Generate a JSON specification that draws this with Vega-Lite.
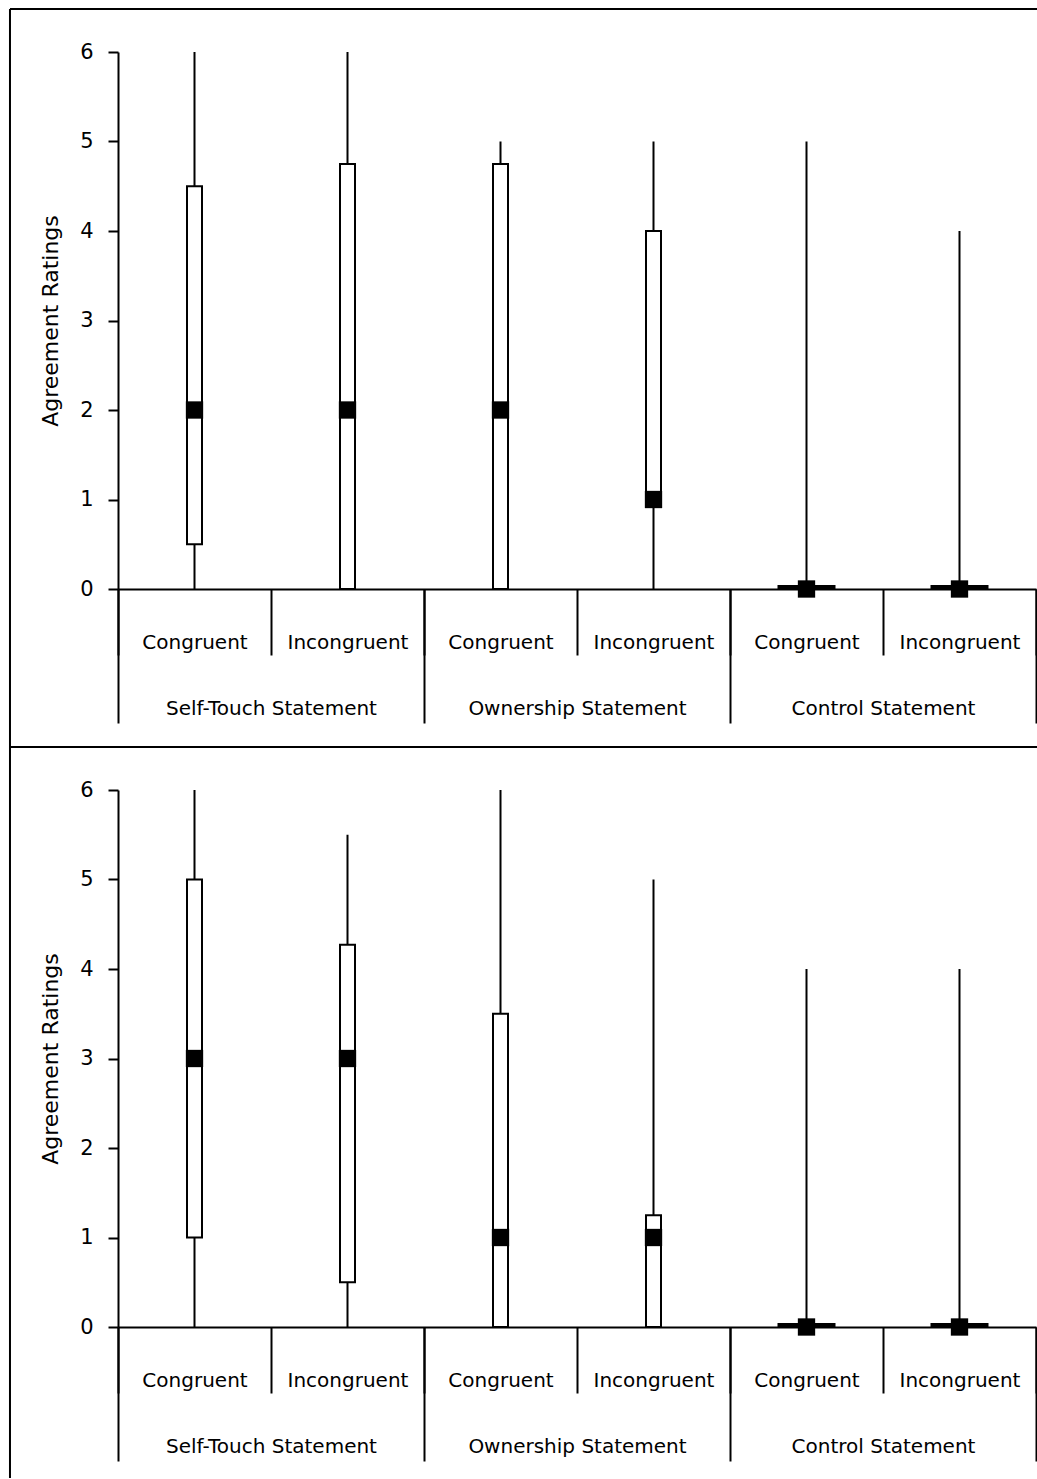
{
  "$schema": "https://vega.github.io/schema/vega-lite/v6.json",
  "padding": {"left": 8, "top": 8, "right": 0, "bottom": 0},
  "bounds": "flush",
  "spacing": 201,
  "datasets": {
    "top": [
      {"group": "Self-Touch Statement", "cond": "Self-Touch Statement / Congruent", "min": 0, "q1": 0.5, "median": 2, "q3": 4.5, "max": 6},
      {"group": "Self-Touch Statement", "cond": "Self-Touch Statement / Incongruent", "min": 0, "q1": 0, "median": 2, "q3": 4.75, "max": 6},
      {"group": "Ownership Statement", "cond": "Ownership Statement / Congruent", "min": 0, "q1": 0, "median": 2, "q3": 4.75, "max": 5},
      {"group": "Ownership Statement", "cond": "Ownership Statement / Incongruent", "min": 0, "q1": 1, "median": 1, "q3": 4, "max": 5},
      {"group": "Control Statement", "cond": "Control Statement / Congruent", "min": 0, "q1": 0, "median": 0, "q3": 0, "max": 5},
      {"group": "Control Statement", "cond": "Control Statement / Incongruent", "min": 0, "q1": 0, "median": 0, "q3": 0, "max": 4}
    ],
    "bottom": [
      {"group": "Self-Touch Statement", "cond": "Self-Touch Statement / Congruent", "min": 0, "q1": 1, "median": 3, "q3": 5, "max": 6},
      {"group": "Self-Touch Statement", "cond": "Self-Touch Statement / Incongruent", "min": 0, "q1": 0.5, "median": 3, "q3": 4.27, "max": 5.5},
      {"group": "Ownership Statement", "cond": "Ownership Statement / Congruent", "min": 0, "q1": 0, "median": 1, "q3": 3.5, "max": 6},
      {"group": "Ownership Statement", "cond": "Ownership Statement / Incongruent", "min": 0, "q1": 0, "median": 1, "q3": 1.25, "max": 5},
      {"group": "Control Statement", "cond": "Control Statement / Congruent", "min": 0, "q1": 0, "median": 0, "q3": 0, "max": 4},
      {"group": "Control Statement", "cond": "Control Statement / Incongruent", "min": 0, "q1": 0, "median": 0, "q3": 0, "max": 4}
    ]
  },
  "vconcat": [
    {
      "width": 918,
      "height": 537,
      "data": {"name": "top"},
      "layer": [
        {
          "layer": [
            {
              "mark": {"type": "rule", "stroke": "black", "strokeWidth": 2},
              "encoding": {
                "x": {"field": "cond", "type": "nominal",
                  "scale": {"type": "band", "domain": ["Self-Touch Statement / Congruent", "Self-Touch Statement / Incongruent", "Ownership Statement / Congruent", "Ownership Statement / Incongruent", "Control Statement / Congruent", "Control Statement / Incongruent"], "paddingInner": 0, "paddingOuter": 0},
                  "axis": {"orient": "bottom", "title": null, "tickBand": "extent", "tickSize": 66, "tickWidth": 2, "tickColor": "black", "domainColor": "black", "domainWidth": 2, "labelPadding": -22.5, "labelFontSize": 20, "labelLimit": 0, "labelColor": "black", "labelAngle": 0, "labelExpr": "split(datum.label, ' / ')[1]", "grid": false}},
                "y": {"field": "min", "type": "quantitative", "title": "Agreement Ratings",
                  "scale": {"domain": [0, 6], "nice": false, "zero": false},
                  "axis": {"values": [0, 1, 2, 3, 4, 5, 6], "format": "d", "tickSize": 10, "tickWidth": 2, "tickColor": "black", "domainColor": "black", "domainWidth": 2, "labelFontSize": 21, "labelColor": "black", "labelPadding": 15, "titleFontSize": 22, "titleFontWeight": "normal", "titleColor": "black", "titlePadding": 17, "grid": false}},
                "y2": {"field": "max"}
              }
            },
            {
              "mark": {"type": "bar", "width": 15, "fill": "white", "stroke": "black", "strokeWidth": 2},
              "encoding": {
                "x": {"field": "cond", "type": "nominal"},
                "y": {"field": "q1", "type": "quantitative", "title": "Agreement Ratings"},
                "y2": {"field": "q3"}
              }
            },
            {
              "transform": [{"filter": "datum.q3 == 0"}],
              "mark": {"type": "tick", "color": "black", "opacity": 1, "size": 58, "thickness": 4, "orient": "horizontal", "yOffset": -2},
              "encoding": {
                "x": {"field": "cond", "type": "nominal"},
                "y": {"field": "q3", "type": "quantitative", "title": "Agreement Ratings"}
              }
            },
            {
              "mark": {"type": "point", "shape": "square", "filled": true, "size": 300, "color": "black", "opacity": 1},
              "encoding": {
                "x": {"field": "cond", "type": "nominal"},
                "y": {"field": "median", "type": "quantitative", "title": "Agreement Ratings"}
              }
            }
          ]
        },
        {
          "mark": {"type": "rule", "opacity": 0},
          "encoding": {
            "x": {"field": "group", "type": "nominal",
              "scale": {"type": "band", "domain": ["Self-Touch Statement", "Ownership Statement", "Control Statement"], "paddingInner": 0, "paddingOuter": 0},
              "axis": {"orient": "bottom", "title": null, "tickBand": "extent", "tickSize": 134, "tickWidth": 2, "tickColor": "black", "domain": false, "labelPadding": -24.5, "labelFontSize": 20, "labelLimit": 0, "labelColor": "black", "labelAngle": 0, "grid": false}}
          }
        },
        {
          "data": {"values": [{}]},
          "mark": {"type": "rule", "stroke": "black", "strokeWidth": 2},
          "encoding": {
            "x": {"datum": -0.706, "type": "quantitative", "scale": {"domain": [0, 6], "nice": false, "zero": false}, "axis": null},
            "y": {"datum": 6.48, "type": "quantitative", "scale": {"domain": [0, 6], "nice": false, "zero": false}},
            "y2": {"datum": -1.765}
          }
        },
        {
          "data": {"values": [{}]},
          "mark": {"type": "rule", "stroke": "black", "strokeWidth": 2},
          "encoding": {
            "x": {"datum": -0.706, "type": "quantitative", "scale": {"domain": [0, 6], "nice": false, "zero": false}, "axis": null},
            "x2": {"datum": 6.01},
            "y": {"datum": 6.48, "type": "quantitative", "scale": {"domain": [0, 6], "nice": false, "zero": false}}
          }
        }
      ],
      "resolve": {"scale": {"x": "independent"}}
    },
    {
      "width": 918,
      "height": 537,
      "data": {"name": "bottom"},
      "layer": [
        {
          "layer": [
            {
              "mark": {"type": "rule", "stroke": "black", "strokeWidth": 2},
              "encoding": {
                "x": {"field": "cond", "type": "nominal",
                  "scale": {"type": "band", "domain": ["Self-Touch Statement / Congruent", "Self-Touch Statement / Incongruent", "Ownership Statement / Congruent", "Ownership Statement / Incongruent", "Control Statement / Congruent", "Control Statement / Incongruent"], "paddingInner": 0, "paddingOuter": 0},
                  "axis": {"orient": "bottom", "title": null, "tickBand": "extent", "tickSize": 66, "tickWidth": 2, "tickColor": "black", "domainColor": "black", "domainWidth": 2, "labelPadding": -22.5, "labelFontSize": 20, "labelLimit": 0, "labelColor": "black", "labelAngle": 0, "labelExpr": "split(datum.label, ' / ')[1]", "grid": false}},
                "y": {"field": "min", "type": "quantitative", "title": "Agreement Ratings",
                  "scale": {"domain": [0, 6], "nice": false, "zero": false},
                  "axis": {"values": [0, 1, 2, 3, 4, 5, 6], "format": "d", "tickSize": 10, "tickWidth": 2, "tickColor": "black", "domainColor": "black", "domainWidth": 2, "labelFontSize": 21, "labelColor": "black", "labelPadding": 15, "titleFontSize": 22, "titleFontWeight": "normal", "titleColor": "black", "titlePadding": 17, "grid": false}},
                "y2": {"field": "max"}
              }
            },
            {
              "mark": {"type": "bar", "width": 15, "fill": "white", "stroke": "black", "strokeWidth": 2},
              "encoding": {
                "x": {"field": "cond", "type": "nominal"},
                "y": {"field": "q1", "type": "quantitative", "title": "Agreement Ratings"},
                "y2": {"field": "q3"}
              }
            },
            {
              "transform": [{"filter": "datum.q3 == 0"}],
              "mark": {"type": "tick", "color": "black", "opacity": 1, "size": 58, "thickness": 4, "orient": "horizontal", "yOffset": -2},
              "encoding": {
                "x": {"field": "cond", "type": "nominal"},
                "y": {"field": "q3", "type": "quantitative", "title": "Agreement Ratings"}
              }
            },
            {
              "mark": {"type": "point", "shape": "square", "filled": true, "size": 300, "color": "black", "opacity": 1},
              "encoding": {
                "x": {"field": "cond", "type": "nominal"},
                "y": {"field": "median", "type": "quantitative", "title": "Agreement Ratings"}
              }
            }
          ]
        },
        {
          "mark": {"type": "rule", "opacity": 0},
          "encoding": {
            "x": {"field": "group", "type": "nominal",
              "scale": {"type": "band", "domain": ["Self-Touch Statement", "Ownership Statement", "Control Statement"], "paddingInner": 0, "paddingOuter": 0},
              "axis": {"orient": "bottom", "title": null, "tickBand": "extent", "tickSize": 134, "tickWidth": 2, "tickColor": "black", "domain": false, "labelPadding": -24.5, "labelFontSize": 20, "labelLimit": 0, "labelColor": "black", "labelAngle": 0, "grid": false}}
          }
        },
        {
          "data": {"values": [{}]},
          "mark": {"type": "rule", "stroke": "black", "strokeWidth": 2},
          "encoding": {
            "x": {"datum": -0.706, "type": "quantitative", "scale": {"domain": [0, 6], "nice": false, "zero": false}, "axis": null},
            "y": {"datum": 6.48, "type": "quantitative", "scale": {"domain": [0, 6], "nice": false, "zero": false}},
            "y2": {"datum": -1.687}
          }
        },
        {
          "data": {"values": [{}]},
          "mark": {"type": "rule", "stroke": "black", "strokeWidth": 2},
          "encoding": {
            "x": {"datum": -0.706, "type": "quantitative", "scale": {"domain": [0, 6], "nice": false, "zero": false}, "axis": null},
            "x2": {"datum": 6.01},
            "y": {"datum": 6.48, "type": "quantitative", "scale": {"domain": [0, 6], "nice": false, "zero": false}}
          }
        }
      ],
      "resolve": {"scale": {"x": "independent"}}
    }
  ],
  "config": {
    "view": {"stroke": null},
    "font": "DejaVu Sans",
    "axis": {"labelFont": "DejaVu Sans", "titleFont": "DejaVu Sans"}
  }
}
